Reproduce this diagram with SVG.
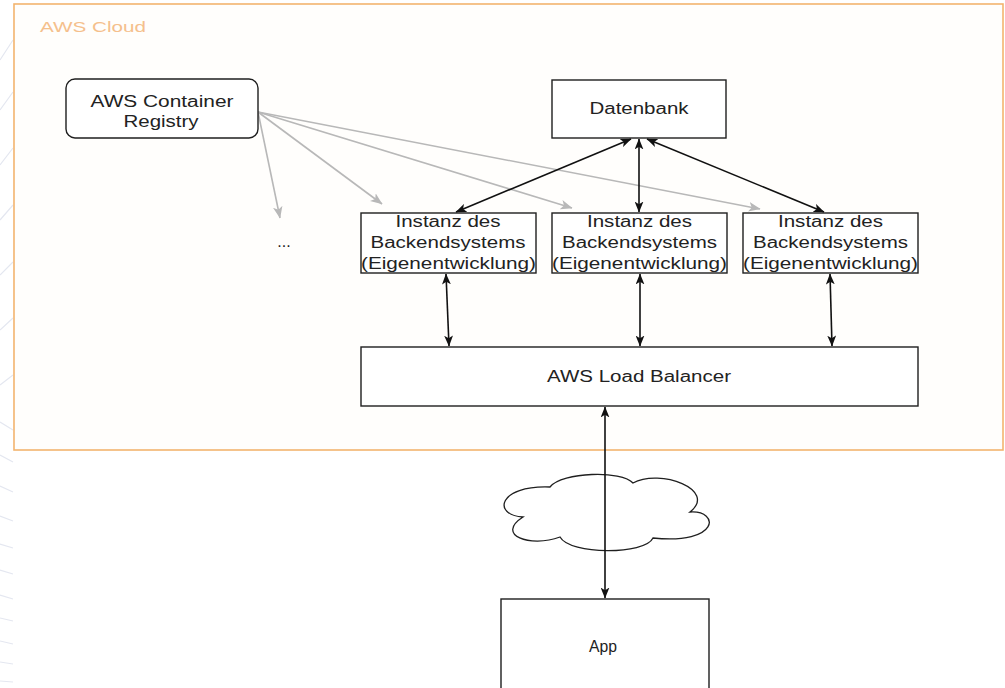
<svg xmlns="http://www.w3.org/2000/svg" width="1005" height="688" viewBox="0 0 1005 688">
<defs>
<style>
.box{fill:#ffffff;stroke:#1f1f1f;stroke-width:1.4}
.t{font-family:"Liberation Sans",Arial,sans-serif;font-size:16px;fill:#222222;text-anchor:middle}
.blk{stroke:#111111;stroke-width:1.6;fill:none}
.gry{stroke:#b8b8b8;stroke-width:1.6;fill:none}
.bg{stroke:#e4e7f0;stroke-width:1.2;fill:none}
</style>
<marker id="ab" viewBox="0 0 10 8" refX="9.5" refY="4" markerWidth="11" markerHeight="9" markerUnits="userSpaceOnUse" orient="auto-start-reverse">
<path d="M0,0 L10,4 L0,8 L2.5,4 Z" fill="#111111"/>
</marker>
<marker id="ag" viewBox="0 0 10 8" refX="9.5" refY="4" markerWidth="12" markerHeight="10" markerUnits="userSpaceOnUse" orient="auto">
<path d="M0,0 L10,4 L0,8 L2.5,4 Z" fill="#b8b8b8"/>
</marker>
</defs>
<rect width="1005" height="688" fill="#ffffff"/>
<g id="background">
<path class="bg" d="M0,422 L13,430 M0,455 L13,462 M0,486 L13,492 M0,516 L13,521 M0,544 L13,548 M0,570 L13,574 M0,595 L13,599 M0,618 L13,621 M0,641 L13,644 M0,662 L13,664 M0,681 L13,682"/>
<path class="bg" d="M0,60 L13,40 M0,110 L13,92 M0,165 L13,148 M0,220 L13,205 M0,275 L13,262 M0,330 L13,318 M0,385 L13,375"/>
</g>
<g id="aws-cloud">
<rect x="14" y="4" width="989" height="446" fill="#fffefc" stroke="#f3b46e" stroke-width="1.6"/>
<text x="40" y="32" font-family="Liberation Sans,Arial,sans-serif" font-size="15" fill="#f5c08c" textLength="106" lengthAdjust="spacingAndGlyphs">AWS Cloud</text>
</g>
<g id="connectors">
<line class="gry" x1="258" y1="112" x2="280" y2="218" marker-end="url(#ag)"/>
<line class="gry" x1="258" y1="112" x2="382" y2="204" marker-end="url(#ag)"/>
<line class="gry" x1="258" y1="112" x2="572" y2="208" marker-end="url(#ag)"/>
<line class="gry" x1="258" y1="112" x2="760" y2="209" marker-end="url(#ag)"/>
<line class="blk" x1="631" y1="139" x2="456" y2="212" marker-start="url(#ab)" marker-end="url(#ab)"/>
<line class="blk" x1="639" y1="139" x2="639" y2="212" marker-start="url(#ab)" marker-end="url(#ab)"/>
<line class="blk" x1="647" y1="139" x2="824" y2="212" marker-start="url(#ab)" marker-end="url(#ab)"/>
<line class="blk" x1="446" y1="274" x2="449" y2="346" marker-start="url(#ab)" marker-end="url(#ab)"/>
<line class="blk" x1="640" y1="274" x2="640" y2="346" marker-start="url(#ab)" marker-end="url(#ab)"/>
<line class="blk" x1="830" y1="274" x2="832" y2="346" marker-start="url(#ab)" marker-end="url(#ab)"/>
</g>
<g id="registry">
<rect class="box" x="66" y="79" width="192" height="59" rx="9"/>
<text class="t" x="162" y="107" textLength="143" lengthAdjust="spacingAndGlyphs">AWS Container</text>
<text class="t" x="161" y="127" textLength="75" lengthAdjust="spacingAndGlyphs">Registry</text>
</g>
<g id="dots">
<text class="t" x="284" y="247" font-size="13">...</text>
</g>
<g id="datenbank">
<rect class="box" x="552" y="80" width="174" height="58"/>
<text class="t" x="639" y="114" textLength="99" lengthAdjust="spacingAndGlyphs">Datenbank</text>
</g>
<g id="instanz-1">
<rect class="box" x="361" y="213" width="175" height="60"/>
<text class="t" x="448" y="227" textLength="105" lengthAdjust="spacingAndGlyphs">Instanz des</text>
<text class="t" x="448" y="248" textLength="155" lengthAdjust="spacingAndGlyphs">Backendsystems</text>
<text class="t" x="448.5" y="269" textLength="175" lengthAdjust="spacingAndGlyphs">(Eigenentwicklung)</text>
</g>
<g id="instanz-2">
<rect class="box" x="552" y="213" width="175" height="60"/>
<text class="t" x="639.5" y="227" textLength="105" lengthAdjust="spacingAndGlyphs">Instanz des</text>
<text class="t" x="639.5" y="248" textLength="155" lengthAdjust="spacingAndGlyphs">Backendsystems</text>
<text class="t" x="639.5" y="269" textLength="175" lengthAdjust="spacingAndGlyphs">(Eigenentwicklung)</text>
</g>
<g id="instanz-3">
<rect class="box" x="743" y="213" width="175" height="60"/>
<text class="t" x="830.5" y="227" textLength="105" lengthAdjust="spacingAndGlyphs">Instanz des</text>
<text class="t" x="830.5" y="248" textLength="155" lengthAdjust="spacingAndGlyphs">Backendsystems</text>
<text class="t" x="830.5" y="269" textLength="175" lengthAdjust="spacingAndGlyphs">(Eigenentwicklung)</text>
</g>
<g id="load-balancer">
<rect class="box" x="361" y="347" width="557" height="59"/>
<text class="t" x="639" y="382" textLength="184" lengthAdjust="spacingAndGlyphs">AWS Load Balancer</text>
</g>
<g id="internet">
<path d="M550,487 C562,472 622,470 633,483 C660,468 718,490 690,512 C720,510 720,545 653,538 C645,555 570,555 560,537 C530,548 495,535 523,517 C492,515 498,485 550,487 Z" fill="#ffffff" stroke="#1f1f1f" stroke-width="1.3"/>
</g>
<g id="app">
<rect class="box" x="501" y="599" width="208" height="95"/>
<text class="t" x="603" y="652" textLength="28" lengthAdjust="spacingAndGlyphs">App</text>
</g>
<g id="connector-app">
<line class="blk" x1="605" y1="407" x2="605" y2="598" marker-start="url(#ab)" marker-end="url(#ab)"/>
</g>
</svg>
